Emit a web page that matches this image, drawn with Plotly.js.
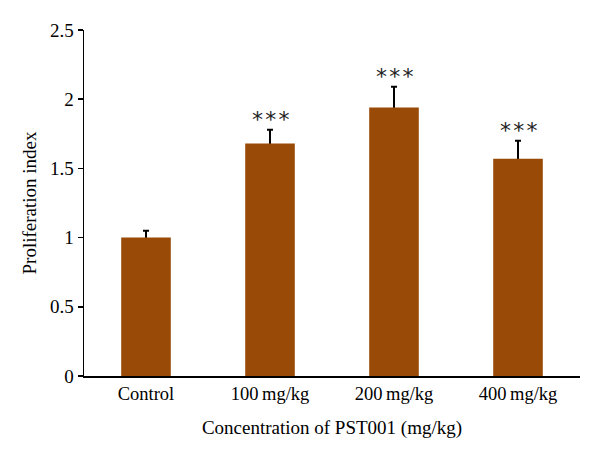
<!DOCTYPE html>
<html>
<head>
<meta charset="utf-8">
<script src="https://cdn.plot.ly/plotly-3.0.1.min.js"></script>
<style>html,body{margin:0;padding:0;background:#fff;}#chart{width:600px;height:460px;}</style>
</head>
<body>
<div id="chart"></div>
<script>
const categories = ["Control", "100\u2009mg/kg", "200\u2009mg/kg", "400\u2009mg/kg"];
const values = [1.00, 1.68, 1.94, 1.57];
const errors = [0.05, 0.10, 0.15, 0.13];
const significance = ["", "***", "***", "***"];

const FONT = "Liberation Serif, Times New Roman, serif";

// Transparent bar carrying the error bars, drawn first so the real bar hides the lower half.
const errTrace = {
  type: "bar",
  x: categories,
  y: values,
  width: 0.4,
  marker: {color: "rgba(0,0,0,0)", line: {width: 0}},
  error_y: {
    type: "data",
    array: errors,
    color: "#000",
    thickness: 2,
    width: 3
  },
  hoverinfo: "skip"
};

const barTrace = {
  type: "bar",
  x: categories,
  y: values,
  width: 0.4,
  marker: {color: "#994A07", line: {width: 0}},
  hoverinfo: "skip"
};

const annotations = categories.map((c, i) => ({
  x: c,
  y: values[i] + errors[i],
  text: significance[i].split("").join("\u200A"),
  showarrow: false,
  yanchor: "bottom",
  yshift: -4,
  font: {family: "DejaVu Sans, sans-serif", size: 22, color: "#222"}
})).filter(a => a.text !== "");

const layout = {
  width: 600,
  height: 460,
  margin: {l: 84, r: 20, t: 30, b: 84},
  paper_bgcolor: "#fff",
  plot_bgcolor: "#fff",
  showlegend: false,
  barmode: "overlay",
  font: {family: FONT, size: 18.5, color: "#000"},
  xaxis: {
    type: "category",
    range: [-0.5, 3.5],
    showline: true,
    linecolor: "#000",
    linewidth: 1.5,
    ticks: "",
    showgrid: false,
    zeroline: false,
    tickfont: {family: FONT, size: 18.5, color: "#000"},
    title: {text: "Concentration of PST001 (mg/kg)", font: {family: FONT, size: 19, color: "#000"}, standoff: 18}
  },
  yaxis: {
    range: [0, 2.5],
    tickvals: [0, 0.5, 1, 1.5, 2, 2.5],
    ticktext: ["0", "0.5", "1", "1.5", "2", "2.5"],
    showline: true,
    linecolor: "#000",
    linewidth: 1.5,
    ticks: "outside",
    ticklen: 5,
    tickwidth: 1.5,
    tickcolor: "#000",
    showgrid: false,
    zeroline: false,
    tickfont: {family: FONT, size: 19, color: "#000"},
    title: {text: "Proliferation index", font: {family: FONT, size: 19, color: "#000"}, standoff: 8}
  },
  annotations: annotations
};

Plotly.newPlot("chart", [errTrace, barTrace], layout, {displayModeBar: false, staticPlot: true});
</script>
</body>
</html>
